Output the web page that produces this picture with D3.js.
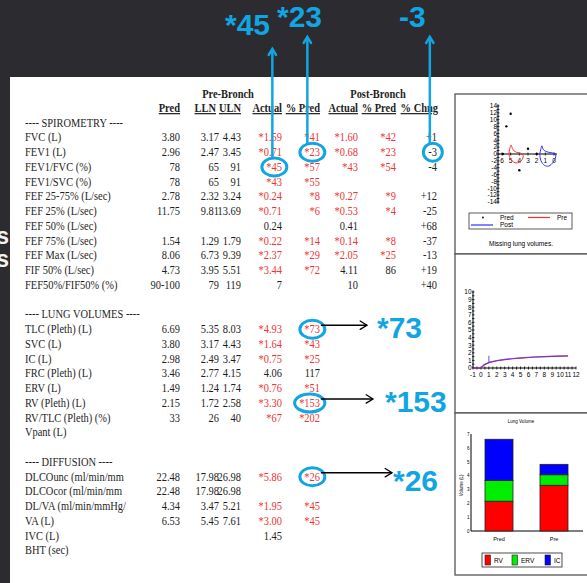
<!DOCTYPE html>
<html><head><meta charset="utf-8">
<script src="https://cdn.jsdelivr.net/npm/d3@7"></script>
<style>
body{margin:0;background:#2c2b2f;}
svg{display:block}
</style></head><body>
<svg width="587" height="583"></svg>
<script>
// ---- table data ----
var spiroLabels = ['FVC (L)','FEV1 (L)','FEV1/FVC (%)','FEV1/SVC (%)','FEF 25-75% (L/sec)','FEF 25% (L/sec)','FEF 50% (L/sec)','FEF 75% (L/sec)','FEF Max (L/sec)','FIF 50% (L/sec)','FEF50%/FIF50% (%)'];
var spiroPred = ['3.80','2.96','78','78','2.78','11.75','','1.54','8.06','4.73','90-100'];
var spiroLLN = ['3.17','2.47','65','65','2.32','9.81','','1.29','6.73','3.95','79'];
var spiroULN = ['4.43','3.45','91','91','3.24','13.69','','1.79','9.39','5.51','119'];
var spiroAct = ['*1.59','*0.71','*45','*43','*0.24','*0.71','0.24','*0.22','*2.37','*3.44','7'];
var spiroPct = ['*41','*23','*57','*55','*8','*6','','*14','*29','*72',''];
var spiroPostAct = ['*1.60','*0.68','*43','','*0.27','*0.53','0.41','*0.14','*2.05','4.11','10'];
var spiroPostPct = ['*42','*23','*54','','*9','*4','','*8','*25','86',''];
var spiroChng = ['+1','-3','-4','','+12','-25','+68','-37','-13','+19','+40'];

var lvLabels = ['TLC (Pleth) (L)','SVC (L)','IC (L)','FRC (Pleth) (L)','ERV (L)','RV (Pleth) (L)','RV/TLC (Pleth) (%)','Vpant (L)'];
var lvPred = ['6.69','3.80','2.98','3.46','1.49','2.15','33',''];
var lvLLN = ['5.35','3.17','2.49','2.77','1.24','1.72','26',''];
var lvULN = ['8.03','4.43','3.47','4.15','1.74','2.58','40',''];
var lvAct = ['*4.93','*1.64','*0.75','4.06','*0.76','*3.30','*67',''];
var lvPct = ['*73','*43','*25','117','*51','*153','*202',''];

var dlLabels = ['DLCOunc (ml/min/mm','DLCOcor (ml/min/mm','DL/VA (ml/min/mmHg/','VA (L)','IVC (L)','BHT (sec)'];
var dlPred = ['22.48','22.48','4.34','6.53','',''];
var dlLLN = ['17.98','17.98','3.47','5.45','',''];
var dlULN = ['26.98','26.98','5.21','7.61','',''];
var dlAct = ['*5.86','','*1.95','*3.00','1.45',''];
var dlPct = ['*26','','*45','*45','',''];

var colKeys = ['pred','lln','uln','act','pct','pAct','pPct','chng'];
var colHeads = ['Pred','LLN','ULN','Actual','% Pred','Actual','% Pred','% Chng'];
var groupHeads = ['Pre-Bronch','Post-Bronch'];

// highlighted cells and their callouts
var calloutRows = ['FEV1/FVC (%)','FEV1 (L)','FEV1 (L)','TLC (Pleth) (L)','RV (Pleth) (L)','DLCOunc (ml/min/mm'];
var calloutCols = ['act','pct','chng','pct','pct','pct'];
var calloutText = ['*45','*23','-3','*73','*153','*26'];

// ---- small charts data ----
var fvPred = [[5.0,11.75],[5.5,8.06],[3.0,1.54],[4.0,-4.73],[2.0,0],[5.9,0]];
var fvPre = [[5.2,0],[5.1,1.6],[4.95,2.6],[4.8,1.6],[4.6,0.9],[4.3,0.5],[4.0,0.3],[3.7,0.1],[3.55,-0.6],[3.7,-1.7],[4.0,-2.4],[4.4,-2.6],[4.8,-2.1],[5.1,-1.0],[5.2,0]];
var fvPost = [[1.65,0],[1.5,1.6],[1.4,2.4],[1.25,1.4],[1.0,0.8],[0.6,0.5],[0.2,0.3],[-0.15,0.1],[-0.2,-0.8],[0.1,-2.4],[0.6,-3.5],[1.1,-3.3],[1.5,-2.0],[1.65,0]];
var vtPre = [[-1,0],[0,0],[0.4,0.4],[1,0.7],[2,0.95],[3,1.1],[4,1.22],[5,1.31],[6,1.38],[7,1.45],[8,1.5],[9,1.54],[10,1.57],[11,1.59]];
var vtPost = [[-1,0],[0,0],[0.4,0.45],[1,0.72],[1,1.6],[1,0.74],[2,0.98],[3,1.13],[4,1.25],[5,1.33],[6,1.4],[7,1.46],[8,1.5],[9,1.53],[10,1.56],[11,1.58]];
var barGroups = ['Pred','Pre'];
var barParts = ['RV','ERV','IC'];
var barRV = [2.15, 3.30];
var barERV = [1.49, 0.76];
var barIC = [2.98, 0.75];
var barColors = ['#ff0000','#00ee00','#0000ff'];

var blue = '#12a5e3', red = '#ee3535', ink = '#1e1e1e';
var squeeze = 0.87;
var svg = d3.select('svg');

svg.append('rect').attr('width',587).attr('height',583).attr('fill','#2c2b2f');
// cut-off slide letters behind the page
svg.selectAll('text.slide').data([244, 267]).enter().append('text')
  .attr('x', 9).attr('y', d => d).attr('text-anchor','end')
  .style('font', 'bold 23px "Liberation Sans"').attr('fill','#f2f2f2').text('s');
svg.append('rect').attr('x',10).attr('y',77).attr('width',577).attr('height',506).attr('fill','#fff');

// ---- table ----
var lineY = d3.scaleLinear().domain([0, 29]).range([126.5, 126.5 + 29*14.75]);
var colX = d3.scaleOrdinal().domain(colKeys).range([180, 219, 241, 282, 320, 358, 396, 437]);
var labelX = 25;
var tbl = svg.append('g').style('font-family','"Liberation Serif", "Times New Roman", serif').style('font-size','12px');

function put(t, x, y) {
  return t.attr('transform', 'translate(' + x + ',' + y + ') scale(' + squeeze + ',1)');
}

groupHeads.forEach(function(h, i) {
  put(tbl.append('text'), [228, 378][i], 98).attr('text-anchor','middle')
    .style('font-weight','bold').attr('fill', ink).text(h);
});
colHeads.forEach(function(h, i) {
  put(tbl.append('text'), colX(colKeys[i]) + (i == 1 ? -3 : i == 7 ? 1 : 0), 112).attr('text-anchor','end')
    .style('font-weight','bold').style('text-decoration','underline').attr('fill', ink).text(h);
});

function section(title, start, labels, cols) {
  put(tbl.append('text'), labelX, lineY(start)).attr('fill', ink).text(title);
  var rows = labels.map(function(l, i) {
    var r = {label: l, line: start + 1 + i};
    colKeys.forEach(function(k) { r[k] = cols[k] ? cols[k][i] : ''; });
    return r;
  });
  rows.forEach(function(r) {
    put(tbl.append('text'), labelX, lineY(r.line)).attr('fill', ink).text(r.label);
    colKeys.forEach(function(k) {
      if (!r[k]) return;
      put(tbl.append('text'), colX(k), lineY(r.line)).attr('class','cell')
        .attr('data-key', r.label + '|' + k).attr('text-anchor','end')
        .attr('fill', r[k][0] == '*' ? red : ink).text(r[k]);
    });
  });
}
section('---- SPIROMETRY ----', 0, spiroLabels, {pred: spiroPred, lln: spiroLLN, uln: spiroULN, act: spiroAct, pct: spiroPct, pAct: spiroPostAct, pPct: spiroPostPct, chng: spiroChng});
section('---- LUNG VOLUMES ----', 13, lvLabels, {pred: lvPred, lln: lvLLN, uln: lvULN, act: lvAct, pct: lvPct});
section('---- DIFFUSION ----', 23, dlLabels, {pred: dlPred, lln: dlLLN, uln: dlULN, act: dlAct, pct: dlPct});

// ---- small chart boxes ----
var boxes = svg.append('g');
[[455,94,254],[455,254,413],[455,413,575]].forEach(function(b) {
  boxes.append('rect').attr('x', b[0]).attr('y', b[1]).attr('width', 140).attr('height', b[2] - b[1])
    .attr('fill','#fff').attr('stroke','#555').attr('stroke-width',1.3);
});
var tiny = 'font-family:"Liberation Sans",Arial,sans-serif;font-size:6.5px';

// flow-volume
var fv = svg.append('g').attr('style', tiny);
var fx = d3.scaleLinear().domain([6, 0]).range([502, 554]);
var fy = d3.scaleLinear().domain([14, -14]).range([106, 202]);
fv.append('line').attr('x1', 498).attr('x2', 498).attr('y1', fy(14.5)).attr('y2', fy(-14.5)).attr('stroke','#000');
fv.append('line').attr('x1', 498).attr('x2', fx(-0.35)).attr('y1', fy(0)).attr('y2', fy(0)).attr('stroke','#000');
d3.range(-14, 15, 1).forEach(function(v) {
  fv.append('line').attr('x1', 496.5).attr('x2', 499.5).attr('y1', fy(v)).attr('y2', fy(v)).attr('stroke','#000').attr('stroke-width',0.8);
});
fv.selectAll('text.fyl').data(d3.range(-14, 15, 2)).enter().append('text')
  .attr('x', 497).attr('y', d => fy(d) + 2.3).attr('text-anchor','end').text(d => d);
fv.selectAll('text.fxl').data(d3.range(6, -1, -1)).enter().append('text')
  .attr('x', d => fx(d)).attr('y', fy(0) + 9).attr('text-anchor','middle').text(d => d);
d3.range(6, -1, -1).forEach(function(v) {
  fv.append('line').attr('x1', fx(v)).attr('x2', fx(v)).attr('y1', fy(0) - 1.5).attr('y2', fy(0) + 1.5).attr('stroke','#000').attr('stroke-width',0.8);
});
var fline = d3.line().x(d => fx(d[0])).y(d => fy(d[1])).curve(d3.curveCatmullRom);
fv.append('path').attr('d', fline(fvPre)).attr('fill','none').attr('stroke','#ff3030').attr('stroke-width',1);
fv.append('path').attr('d', fline(fvPost)).attr('fill','none').attr('stroke','#3030ff').attr('stroke-width',1);
fv.selectAll('circle').data(fvPred).enter().append('circle')
  .attr('cx', d => fx(d[0])).attr('cy', d => fy(d[1])).attr('r', 1.2).attr('fill','#000');
fv.append('rect').attr('x', 469).attr('y', 213).attr('width', 103).attr('height', 16).attr('fill','none').attr('stroke','#333').attr('stroke-width',0.8);
fv.append('circle').attr('cx', 483).attr('cy', 217.5).attr('r', 0.9).attr('fill','#000');
fv.append('text').attr('x', 500).attr('y', 219.5).text('Pred');
fv.append('line').attr('x1', 528).attr('x2', 550).attr('y1', 217.5).attr('y2', 217.5).attr('stroke','#ff3030').attr('stroke-width',1.2);
fv.append('text').attr('x', 557).attr('y', 219.5).text('Pre');
fv.append('line').attr('x1', 471).attr('x2', 493).attr('y1', 225).attr('y2', 225).attr('stroke','#3030ff').attr('stroke-width',1.2);
fv.append('text').attr('x', 500).attr('y', 227).text('Post');
fv.append('text').attr('x', 521).attr('y', 246).attr('text-anchor','middle').text('Missing lung volumes.');

// volume-time
var vt = svg.append('g').attr('style', tiny);
var tx = d3.scaleLinear().domain([-1, 12]).range([473, 576]);
var ty = d3.scaleLinear().domain([0, 10]).range([368, 292]);
vt.append('line').attr('x1', tx(-1)).attr('x2', tx(-1)).attr('y1', ty(10.2)).attr('y2', ty(0)).attr('stroke','#000');
vt.append('line').attr('x1', tx(-1)).attr('x2', tx(12)).attr('y1', ty(0)).attr('y2', ty(0)).attr('stroke','#000');
d3.range(0, 10.5, 0.5).forEach(function(v) {
  vt.append('line').attr('x1', tx(-1) - 1).attr('x2', tx(-1) + 1.5).attr('y1', ty(v)).attr('y2', ty(v)).attr('stroke','#000').attr('stroke-width',0.8);
});
d3.range(-1, 12.5, 0.5).forEach(function(v) {
  vt.append('line').attr('x1', tx(v)).attr('x2', tx(v)).attr('y1', ty(0) - 1.5).attr('y2', ty(0) + 1.5).attr('stroke','#000').attr('stroke-width',0.8);
});
vt.selectAll('text.tyl').data(d3.range(0, 11)).enter().append('text')
  .attr('x', tx(-1) - 1.5).attr('y', d => ty(d) + 2.3).attr('text-anchor','end').text(d => d);
vt.selectAll('text.txl').data(d3.range(-1, 13)).enter().append('text')
  .attr('x', d => tx(d)).attr('y', ty(0) + 8.5).attr('text-anchor','middle').text(d => d);
var tline = d3.line().x(d => tx(d[0])).y(d => ty(d[1]));
vt.append('path').attr('d', tline(vtPre)).attr('fill','none').attr('stroke','#ff2020').attr('stroke-width',1.2);
vt.append('path').attr('d', tline(vtPost)).attr('fill','none').attr('stroke','#4040ff').attr('stroke-opacity',0.75).attr('stroke-width',1.2);

// lung volume bars
var bv = svg.append('g').attr('style', 'font-family:"Liberation Sans",Arial,sans-serif;font-size:5.5px');
var bx = d3.scalePoint().domain(barGroups).range([499, 554]);
var by = d3.scaleLinear().domain([0, 7]).range([531, 434]);
bv.append('text').attr('x', 521).attr('y', 423).attr('text-anchor','middle').style('font-size','4.5px').text('Lung Volume');
bv.append('line').attr('x1', 471).attr('x2', 471).attr('y1', by(7)).attr('y2', by(0)).attr('stroke','#000');
bv.append('line').attr('x1', 471).attr('x2', 583).attr('y1', by(0)).attr('y2', by(0)).attr('stroke','#000').attr('stroke-width',1.2);
bv.selectAll('text.byl').data(d3.range(0, 8)).enter().append('text')
  .attr('x', 469.5).attr('y', d => by(d) + 1.8).attr('text-anchor','end').style('font-size','4.5px').text(d => d);
bv.append('text').attr('transform','translate(463,' + by(3.3) + ') rotate(-90)').attr('text-anchor','middle').style('font-size','4.5px').text('Volume (L)');
var stack = d3.stack().keys(barParts)(barGroups.map(function(g, i) { return {g: g, RV: barRV[i], ERV: barERV[i], IC: barIC[i]}; }));
stack.forEach(function(layer, li) {
  bv.selectAll('rect.l' + li).data(layer).enter().append('rect')
    .attr('x', d => bx(d.data.g) - 14).attr('width', 28)
    .attr('y', d => by(d[1])).attr('height', d => by(d[0]) - by(d[1]))
    .attr('fill', barColors[li]).attr('stroke','#222').attr('stroke-width',0.8);
});
bv.selectAll('text.bxl').data(barGroups).enter().append('text')
  .attr('x', d => bx(d)).attr('y', 541).attr('text-anchor','middle').text(d => d);
bv.append('rect').attr('x', 482).attr('y', 553).attr('width', 80).attr('height', 14).attr('fill','none').attr('stroke','#222').attr('stroke-width',0.8);
barParts.forEach(function(p, i) {
  var lx = [485, 512, 545][i];
  bv.append('rect').attr('x', lx).attr('y', 555).attr('width', 5.5).attr('height', 10).attr('fill', barColors[i]).attr('stroke','#222').attr('stroke-width',0.6);
  bv.append('text').attr('x', lx + 9).attr('y', 563).style('font-size','6.5px').text(p);
});

// ---- callouts ----
function arrow(g, x1, y1, x2, y2, color, width, head) {
  var a = Math.atan2(y2 - y1, x2 - x1);
  g.append('line').attr('x1', x1).attr('y1', y1).attr('x2', x2).attr('y2', y2)
    .attr('stroke', color).attr('stroke-width', width);
  var p1 = [x2 - head*Math.cos(a - 0.55), y2 - head*Math.sin(a - 0.55)];
  var p2 = [x2 - head*Math.cos(a + 0.55), y2 - head*Math.sin(a + 0.55)];
  g.append('path').attr('d', 'M' + p1 + 'L' + x2 + ',' + y2 + 'L' + p2)
    .attr('fill','none').attr('stroke', color).attr('stroke-width', width).attr('stroke-linecap','round');
}
var ann = svg.append('g');
var ell = [];
calloutRows.forEach(function(r, i) {
  var node = tbl.selectAll('text.cell').filter(function() { return this.getAttribute('data-key') == r + '|' + calloutCols[i]; }).node();
  var bb = node.getBoundingClientRect();
  var e = {cx: bb.x + bb.width/2, cy: bb.y + bb.height/2 + 0.5, rx: Math.max(9.5, bb.width/2 + 4.5), ry: 9};
  ell.push(e);
  ann.append('ellipse').attr('cx', e.cx).attr('cy', e.cy).attr('rx', e.rx).attr('ry', e.ry)
    .attr('fill','none').attr('stroke', blue).attr('stroke-width', 3);
});
// vertical arrows to the big numbers at the top
var upX = [-2, -5, -3], upTop = [49, 37, 37];
var topTextPos = [[225, 35], [277, 27], [399, 27]];
[0, 1, 2].forEach(function(i) {
  var e = ell[i];
  arrow(ann, e.cx + upX[i], e.cy - e.ry + 1, e.cx + upX[i], upTop[i], blue, 2.5, 7);
  ann.append('text').attr('x', topTextPos[i][0]).attr('y', topTextPos[i][1])
    .style('font', 'bold 30px "Liberation Sans", Arial, sans-serif').attr('fill', blue).text(calloutText[i]);
});
// side arrows to the big numbers on the right
var sideEnd = [367, 373, 392];
var sideTextPos = [[377, 338], [385, 412], [393, 491]];
[3, 4, 5].forEach(function(i, j) {
  var e = ell[i];
  arrow(ann, e.cx + e.rx - 4, e.cy - 4, sideEnd[j], e.cy - 4, '#000', 1.3, 8);
  ann.append('text').attr('x', sideTextPos[j][0]).attr('y', sideTextPos[j][1])
    .style('font', 'bold 30px "Liberation Sans", Arial, sans-serif').attr('fill', blue).text(calloutText[i]);
});
</script>
</body></html>
